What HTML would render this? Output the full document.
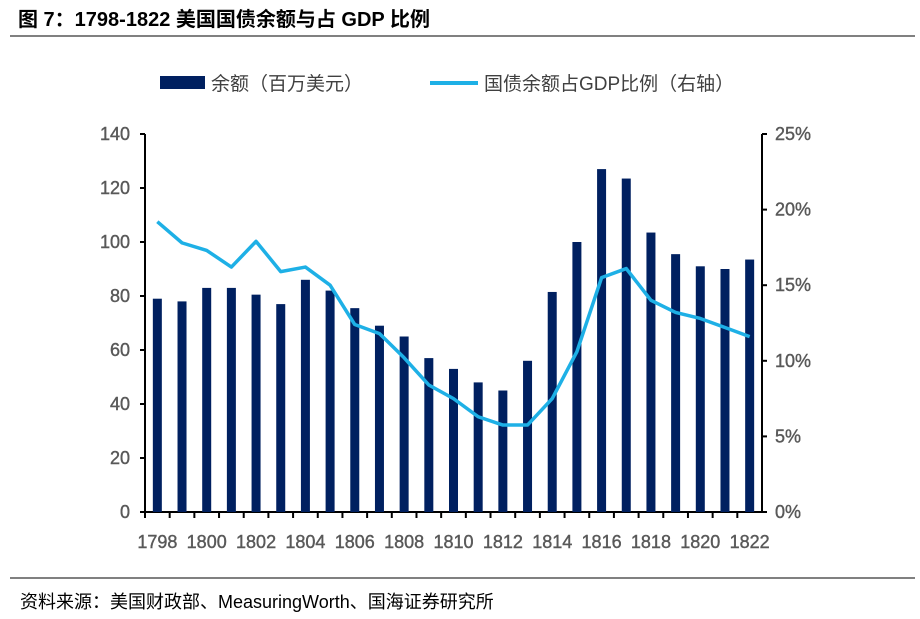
<!DOCTYPE html>
<html><head><meta charset="utf-8"><style>
body{margin:0;width:920px;height:619px;background:#fff;overflow:hidden;font-family:"Liberation Sans","Noto Sans CJK SC",sans-serif;}
svg{position:absolute;left:0;top:0}
</style></head><body>
<svg width="920" height="619">
<text x="18" y="26" font-size="20" font-weight="bold" fill="#000" font-family="Liberation Sans, Noto Sans CJK SC, sans-serif">图 7：1798-1822 美国国债余额与占 GDP 比例</text>
<line x1="10" y1="36" x2="915" y2="36" stroke="#000" stroke-width="1"/>
<g>
<rect x="160" y="76" width="45" height="13" fill="#002060"/>
<text x="211" y="90" font-size="19" fill="#404040">余额（百万美元）</text>
<line x1="430" y1="83" x2="478" y2="83" stroke="#1eb0e6" stroke-width="4"/>
<text x="484" y="90" font-size="19" fill="#404040">国债余额占GDP比例（右轴）</text>
</g>
<g id="axes"></g>
<g id="bars"></g>
<g id="line"></g>
<line x1="10" y1="578" x2="915" y2="578" stroke="#000" stroke-width="1"/>
<text x="20" y="608" font-size="18" fill="#000">资料来源：美国财政部、MeasuringWorth、国海证券研究所</text>
</svg>
<script>
const years=[1798,1799,1800,1801,1802,1803,1804,1805,1806,1807,1808,1809,1810,1811,1812,1813,1814,1815,1816,1817,1818,1819,1820,1821,1822];
const debt=[79,78,83,83,80.5,77,86,82,75.5,69,65,57,53,48,45,56,81.5,100,127,123.5,103.5,95.5,91,90,93.5];
const ratio=[19.2,17.8,17.3,16.2,17.9,15.9,16.2,15.0,12.4,11.8,10.2,8.4,7.5,6.3,5.75,5.75,7.5,10.6,15.5,16.1,14.0,13.2,12.8,12.2,11.6];
const leftTicks=[0,20,40,60,80,100,120,140];
const rightTicks=[0,5,10,15,20,25];
const NS="http://www.w3.org/2000/svg";
const x0=145,x1=762,yTop=134,yBot=512;
const step=(x1-x0)/years.length;
const xs=i=>x0+step*(i+0.5);
const yL=v=>yBot-(v/140)*(yBot-yTop);
const yR=v=>yBot-(v/25)*(yBot-yTop);
function mk(tag,attrs,parent){const e=document.createElementNS(NS,tag);for(const k in attrs)e.setAttribute(k,attrs[k]);parent.appendChild(e);return e;}
const lab={'font-size':18,fill:'#595959',stroke:'#595959','stroke-width':0.4};
const ax=document.getElementById('axes');
let a=mk('line',{x1:x0,y1:yTop,x2:x0,y2:yBot,stroke:'#000','stroke-width':2},ax);


a=mk('line',{x1:x1,y1:yTop,x2:x1,y2:yBot,stroke:'#000','stroke-width':2},ax);


a=mk('line',{x1:x0-5,y1:yBot,x2:x1,y2:yBot,stroke:'#000','stroke-width':2},ax);


leftTicks.forEach(v=>{const y=yL(v);
const t=mk('line',{x1:x0-5,y1:y,x2:x0,y2:y,stroke:'#000','stroke-width':2},ax);


const l=mk('text',Object.assign({x:x0-15,y:y+6,'text-anchor':'end'},lab),ax);l.textContent=v;

});
rightTicks.forEach(v=>{const y=yR(v);
const t=mk('line',{x1:x1,y1:y,x2:x1+5,y2:y,stroke:'#000','stroke-width':2},ax);


const l=mk('text',Object.assign({x:x1+13,y:y+6},lab),ax);l.textContent=v+'%';

});
years.forEach((yr,i)=>{
const t=mk('line',{x1:x0+step*i,y1:yBot,x2:x0+step*i,y2:yBot+6,stroke:'#000','stroke-width':2},ax);


if(i%2===0){const l=mk('text',Object.assign({x:xs(i),y:yBot+36,'text-anchor':'middle'},lab),ax);l.textContent=yr;

}});
const bg=document.getElementById('bars');
debt.forEach((v,i)=>{const r=mk('rect',{x:xs(i)-4.5,y:yL(v),width:9,height:yBot-yL(v),fill:'#002060'},bg);

});
const lg=document.getElementById('line');
const p=mk('polyline',{points:ratio.map((v,i)=>xs(i)+','+yR(v)).join(' '),fill:'none',stroke:'#1eb0e6','stroke-width':3.5,'stroke-linejoin':'round'},lg);


</script>
</body></html>
